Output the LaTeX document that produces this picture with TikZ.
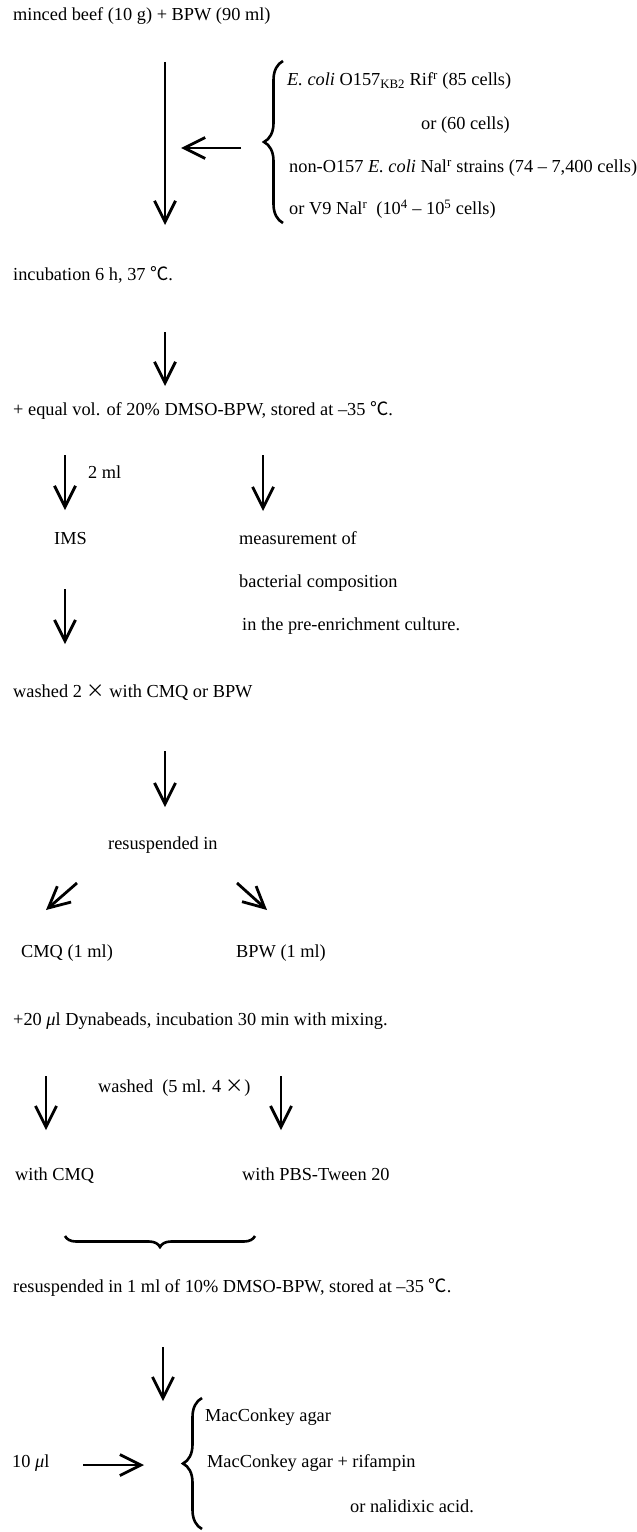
\documentclass[tikz,border=0pt]{standalone}
\usepackage{fontspec}
\setmainfont{Liberation Serif}
\newfontfamily\cjk{Noto Sans CJK JP}
\usetikzlibrary{arrows.meta,decorations.pathreplacing}
\newcommand{\degC}{{\cjk ℃}}
\newcommand{\tms}{{\cjk ×}}
\begin{document}
\begin{tikzpicture}[x=1bp,y=1bp,font=\fontsize{18.4}{22}\selectfont]
\tikzstyle{every node}+=[inner sep=0pt,text height=0.7em,text depth=0.2em]
\tikzstyle{flow}=[black,line width=2.8bp,-{Straight Barb[length=21bp,width=21bp]}]
\tikzstyle{curly}=[black,line width=2.6bp,decorate,decoration={brace,amplitude=19bp}]
\useasboundingbox (0,0) rectangle (637,-1532);
\draw (13,-18) node [right] (beef) {minced beef (10 g) + BPW (90 ml)};
\draw (287,-83) node [right] (ecoli) {\textit{E. coli} O157\textsubscript{KB2} Rif\textsuperscript{r} (85 cells)};
\draw (421,-127) node [right] (or60) {or (60 cells)};
\draw (289,-170) node [right] (nono) {non-O157 \textit{E. coli} Nal\textsuperscript{r} strains (74 – 7,400 cells)};
\draw (289,-212) node [right] (vnine) {or V9 Nal\textsuperscript{r}\ \ (10\textsuperscript{4} – 10\textsuperscript{5} cells)};
\draw (13,-278) node [right] (incub) {incubation 6 h, 37 \degC.};
\draw (13,-413) node [right] (dmso) {+ equal vol. of 20\% DMSO-BPW, stored at –35 \degC.};
\draw (88,-476) node [right] (twoml) {2 ml};
\draw (54,-542) node [right] (ims) {IMS};
\draw (239,-542) node [right] (meas) {measurement of};
\draw (239,-585) node [right] (bact) {bacterial composition};
\draw (242,-628) node [right] (preenr) {in the pre-enrichment culture.};
\draw (13,-695) node [right] (wash) {washed 2 \tms\ with CMQ or BPW};
\draw (108,-847) node [right] (resus) {resuspended in};
\draw (21,-955) node [right] (cmq) {CMQ (1 ml)};
\draw (236,-955) node [right] (bpw) {BPW (1 ml)};
\draw (13,-1023) node [right] (beads) {+20 \textit{μ}l Dynabeads, incubation 30 min with mixing.};
\draw (98,-1090) node [right] (washfour) {washed\ \ (5 ml. 4 \tms)};
\draw (15,-1178) node [right] (wcmq) {with CMQ};
\draw (242,-1178) node [right] (wpbs) {with PBS-Tween 20};
\draw (13,-1290) node [right] (resusten) {resuspended in 1 ml of 10\% DMSO-BPW, stored at –35 \degC.};
\draw (205,-1419) node [right] (mac) {MacConkey agar};
\draw (12,-1465) node [right] (tenul) {10 \textit{μ}l};
\draw (207,-1465) node [right] (macrif) {MacConkey agar + rifampin};
\draw (350,-1510) node [right] (nal) {or nalidixic acid.};
\coordinate (s1) at (165,-62); \coordinate (e1) at (165,-225);
\coordinate (s2) at (241,-148); \coordinate (e2) at (181,-148);
\coordinate (s3) at (165,-332); \coordinate (e3) at (165,-386);
\coordinate (s4) at (65,-455); \coordinate (e4) at (65,-510);
\coordinate (s5) at (263,-455); \coordinate (e5) at (263,-511);
\coordinate (s6) at (65,-589); \coordinate (e6) at (65,-644);
\coordinate (s7) at (165,-751); \coordinate (e7) at (165,-807);
\coordinate (s8) at (77,-883); \coordinate (e8) at (46,-910);
\coordinate (s9) at (237,-883); \coordinate (e9) at (267,-910);
\coordinate (s10) at (46,-1076); \coordinate (e10) at (46,-1130);
\coordinate (s11) at (281,-1076); \coordinate (e11) at (281,-1130);
\coordinate (s12) at (163,-1347); \coordinate (e12) at (163,-1401);
\coordinate (s13) at (83,-1465); \coordinate (e13) at (144,-1465);
\draw [flow] (s1) -- (e1);
\draw [flow] (s2) -- (e2);
\draw [flow] (s3) -- (e3);
\draw [flow] (s4) -- (e4);
\draw [flow] (s5) -- (e5);
\draw [flow] (s6) -- (e6);
\draw [flow] (s7) -- (e7);
\draw [flow] (s8) -- (e8);
\draw [flow] (s9) -- (e9);
\draw [flow] (s10) -- (e10);
\draw [flow] (s11) -- (e11);
\draw [flow] (s12) -- (e12);
\draw [flow] (s13) -- (e13);
\coordinate (bt1) at (283,-223); \coordinate (bt2) at (283,-61);
\coordinate (bm1) at (255,-1236); \coordinate (bm2) at (65,-1236);
\coordinate (bb1) at (202,-1529); \coordinate (bb2) at (202,-1398);
\draw [curly] (bt1) -- (bt2);
\draw [curly,decoration={brace,amplitude=11bp}] (bm1) -- (bm2);
\draw [curly] (bb1) -- (bb2);
\end{tikzpicture}
\end{document}
